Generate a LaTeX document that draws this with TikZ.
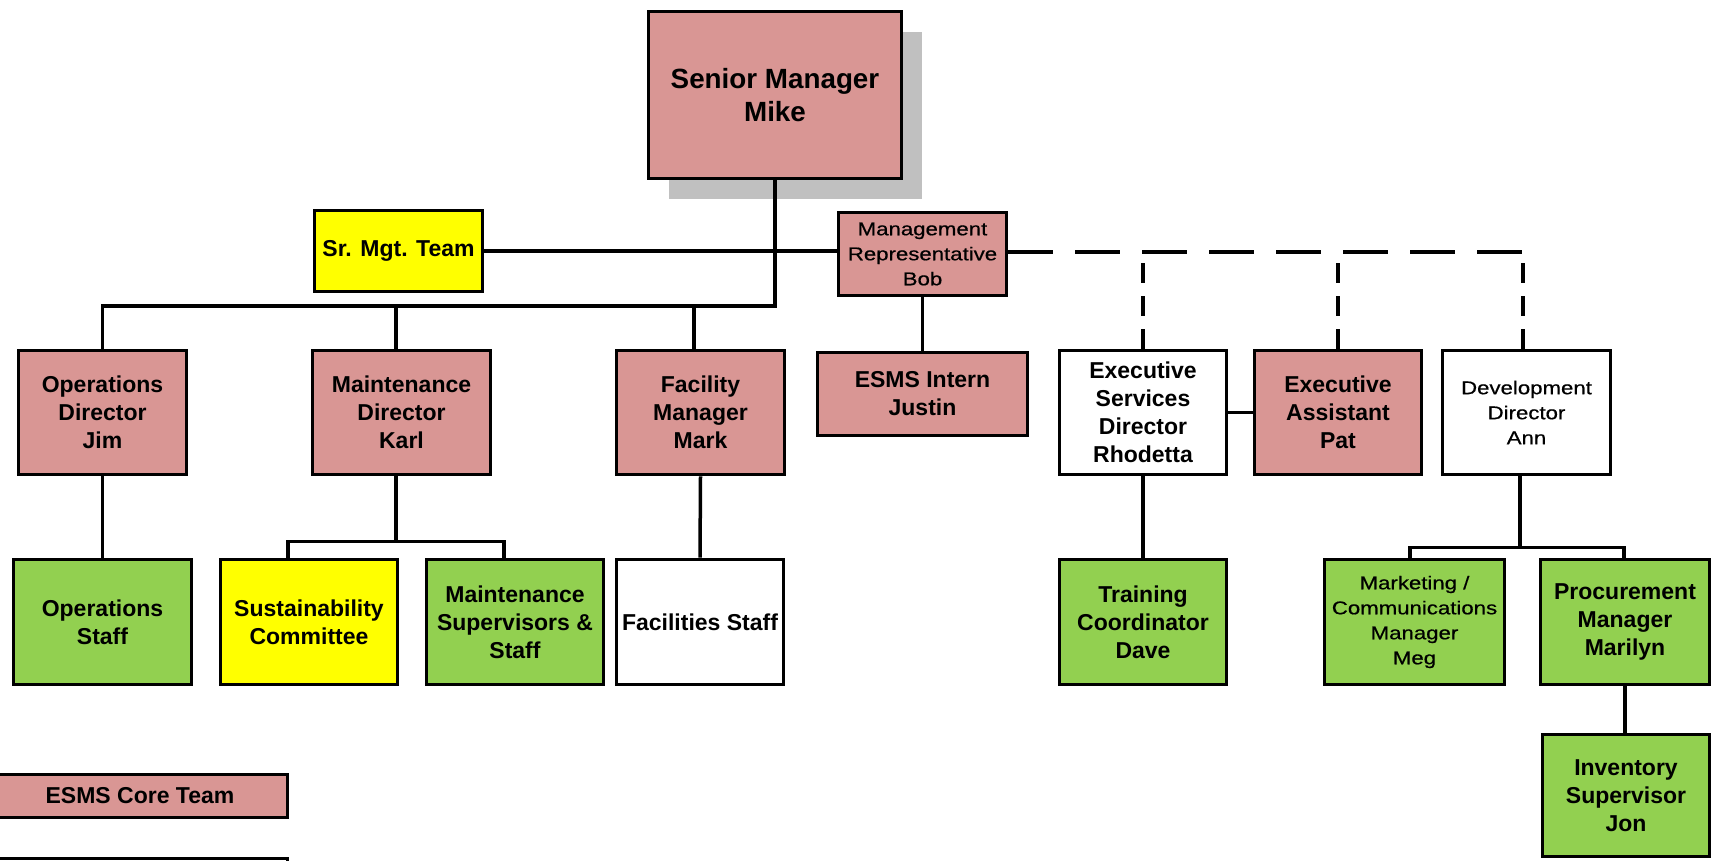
\documentclass[tikz,border=0pt]{standalone}
\usepackage{fontspec}
\setmainfont{Liberation Sans}
\newfontfamily\regfont[FakeStretch=1.2, FakeBold=0.6]{Liberation Sans}
\usetikzlibrary{shadows}

\definecolor{corepink}{HTML}{D99694}
\definecolor{staffgreen}{HTML}{92D050}
\definecolor{teamyellow}{HTML}{FFFF00}
\definecolor{shadowgray}{HTML}{C0C0C0}

\newcommand\boldtxt{\bfseries\fontsize{23}{28}\selectfont}
\newcommand\regtxt{\regfont\fontsize{18.5}{25}\selectfont}
\newcommand\bigtxt{\bfseries\fontsize{27.8}{33}\selectfont}

\tikzset{
  box/.style={draw, line width=3.8pt, inner sep=0pt, align=center, font=\boldtxt},
  core/.style={box, fill=corepink},
  staff/.style={box, fill=staffgreen},
  team/.style={box, fill=teamyellow},
  plain/.style={box, fill=white},
  regular/.style={font=\regtxt},
  sz/.style 2 args={minimum width=#1pt, minimum height=#2pt},
  link/.style={line width=3.5pt},
  hdash/.style={line width=3.5pt, dash pattern=on 45pt off 22pt},
  vdash/.style={line width=3.5pt, dash pattern=on 20pt off 13pt},
}

\begin{document}
\begin{tikzpicture}[x=1pt, y=-1pt]
\useasboundingbox (0,0) rectangle (1716,861);
\clip (0,0) rectangle (1716,861);

% top of the chart
\node[core, font=\bigtxt, sz={253}{167},
      drop shadow={shadow xshift=20pt, shadow yshift=-21pt, fill=shadowgray, opacity=1}]
      (mike) at (775,95) {Senior Manager\\Mike};
\node[team, sz={168}{81}] (srmgt) at (398.5,251) {Sr. Mgt. Team};
\node[core, regular, sz={168}{83}] (bob) at (922.5,254) {Management\\Representative\\Bob};

% second row
\node[core, sz={168}{124}] (ops) at (102.5,412.5) {Operations\\Director\\Jim};
\node[core, sz={178}{124}] (maint) at (401.5,412.5) {Maintenance\\Director\\Karl};
\node[core, sz={168}{124}] (fac) at (700.5,412.5) {Facility\\Manager\\Mark};
\node[core, sz={210}{83}] (intern) at (922.5,394) {ESMS Intern\\Justin};
\node[plain, sz={167}{124}] (execserv) at (1143,412.5) {Executive\\Services\\Director\\Rhodetta};
\node[core, sz={167}{124}] (execasst) at (1338,412.5) {Executive\\Assistant\\Pat};
\node[plain, regular, sz={168}{124}] (devdir) at (1526.5,412.5) {Development\\Director\\Ann};

% third row
\node[staff, sz={178}{125}] (opsstaff) at (102.5,622) {Operations\\Staff};
\node[team, sz={177}{125}] (sustain) at (309,622) {Sustainability\\Committee};
\node[staff, sz={177}{125}] (maintsup) at (515,622) {Maintenance\\Supervisors \&\\Staff};
\node[plain, sz={167}{125}] (facstaff) at (700,622) {Facilities Staff};
\node[staff, sz={167}{125}] (training) at (1143,622) {Training\\Coordinator\\Dave};
\node[staff, regular, sz={180}{125}] (meg) at (1414.5,622) {Marketing /\\Communications\\Manager\\Meg};
\node[staff, sz={169}{125}] (procure) at (1625,622) {Procurement\\Manager\\Marilyn};

% fourth row
\node[staff, sz={167}{122}] (inventory) at (1626,795.5) {Inventory\\Supervisor\\Jon};

% legend
\node[core, sz={295}{43}] (legcore) at (140,796) {ESMS Core Team};
\node[plain, sz={295}{43}] (legnext) at (140,880) {};

% reporting lines
\coordinate (bus) at (0,306);
\draw[link] (mike.south) -- (mike.south |- bus) -| (ops.north);
\draw[link] ([xshift=-5.5pt]maint.north |- bus) -- ([xshift=-5.5pt]maint.north);
\draw[link] ([xshift=-6.5pt]fac.north |- bus) -- ([xshift=-6.5pt]fac.north);
\draw[link] (srmgt.east) -- (srmgt.east -| bob.west);
\draw[link] (bob.south) -- (intern.north);
\draw[link] (execserv.east) -- (execasst.west);

% dotted-line reporting from the management representative
\coordinate (dashend) at ([xshift=-3.5pt]devdir.north |- 0,252);
\draw[hdash] (bob.east |- dashend) -- (dashend);
\draw[vdash] (execserv.north) -- (execserv.north |- dashend);
\draw[vdash] (execasst.north) -- (execasst.north |- dashend);
\draw[vdash] (dashend |- devdir.north) -- (dashend);

% lower reporting lines
\draw[link] (ops.south) -- (opsstaff.north);
\draw[link] ([xshift=-5.5pt]maint.south) -- ++(0,65) coordinate (mbr);
\draw[link] ([xshift=-21pt]sustain.north) |- (mbr) -| ([xshift=-11pt]maintsup.north);
\draw[link] (fac.south) -- (facstaff.north);
\draw[link] (execserv.south) -- (training.north);
\draw[link] ([xshift=-6.5pt]devdir.south) -- ++(0,71) coordinate (dbr);
\draw[link] ([xshift=-4.5pt]meg.north) |- (dbr) -| ([xshift=-1pt]procure.north);
\draw[link] (procure.south) -- (procure.south |- inventory.north);
\end{tikzpicture}
\end{document}
